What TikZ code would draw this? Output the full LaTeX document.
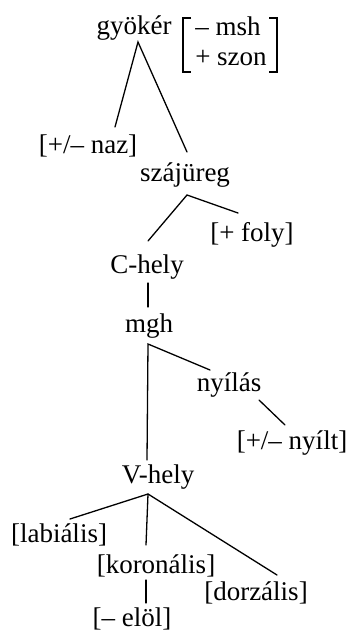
\documentclass[tikz,border=0pt]{standalone}
\usepackage{fontspec}
\setmainfont{Liberation Serif}
\usepackage{tikz}
\usetikzlibrary{calc}

\begin{document}
\begin{tikzpicture}[
    x=0.5pt, y=-0.5pt,
    lbl/.style={inner sep=0pt, font=\fontsize{13.5}{15}\selectfont},
    br/.style={line width=0.65pt, line cap=round},
    brk/.style={line width=0.7pt}
]
\useasboundingbox (0,0) rectangle (351,637);

% nodes of the tree
\node[lbl] (gyoker) at (134,28)  {gyökér};
\node[lbl, align=left] (feat) at (231,41) {– msh\\+ szon};
\node[lbl] (naz)    at (88,146)  {[+/– naz]};
\node[lbl] (szaj)   at (185,175) {szájüreg};
\node[lbl] (foly)   at (252,235) {[+ foly]};
\node[lbl] (chely)  at (147,267) {C-hely};
\node[lbl] (mgh)    at (149,326) {mgh};
\node[lbl] (nyilas) at (229,385) {nyílás};
\node[lbl] (nyilt)  at (292,443) {[+/– nyílt]};
\node[lbl] (vhely)  at (158,477) {V-hely};
\node[lbl] (lab)    at (59,535)  {[labiális]};
\node[lbl] (kor)    at (156,566) {[koronális]};
\node[lbl] (dor)    at (256,593) {[dorzális]};
\node[lbl] (elol)   at (132,619) {[– elöl]};

% brackets round the features
\draw[brk] ($(feat)+(-40,-23)$) -- ++(-8,0) -- ++(0,54) -- ++(8,0);
\draw[brk] ($(feat)+(38,-23)$) -- ++(8,0) -- ++(0,54) -- ++(-8,0);

% branch points and line ends
\coordinate (gyoker-a) at (138,42);
\coordinate (naz-t)    at (115,127);
\coordinate (szaj-t)   at (187,152);
\coordinate (szaj-a)   at (187,195);
\coordinate (chely-t)  at (148,241);
\coordinate (foly-t)   at (238,213);
\coordinate (chely-b)  at (148,283);
\coordinate (mgh-t)    at (148,307);
\coordinate (mgh-a)    at (148,344);
\coordinate (nyilas-t) at (210,370);
\coordinate (vhely-t)  at (147,460);
\coordinate (nyilas-b) at (259,400);
\coordinate (nyilt-t)  at (285,425);
\coordinate (vhely-a)  at (148,494);
\coordinate (lab-t)    at (70,519);
\coordinate (kor-t)    at (146,545);
\coordinate (dor-t)    at (277,575);
\coordinate (kor-b)    at (146,580);
\coordinate (elol-t)   at (146,603);

\draw[br] (naz-t) -- (gyoker-a) -- (szaj-t);
\draw[br] (chely-t) -- (szaj-a) -- (foly-t);
\draw[br] (chely-b) -- (mgh-t);
\draw[br] (nyilas-t) -- (mgh-a) -- (vhely-t);
\draw[br] (nyilas-b) -- (nyilt-t);
\draw[br] (lab-t) -- (vhely-a) -- (dor-t);
\draw[br] (vhely-a) -- (kor-t);
\draw[br] (kor-b) -- (elol-t);
\end{tikzpicture}
\end{document}
